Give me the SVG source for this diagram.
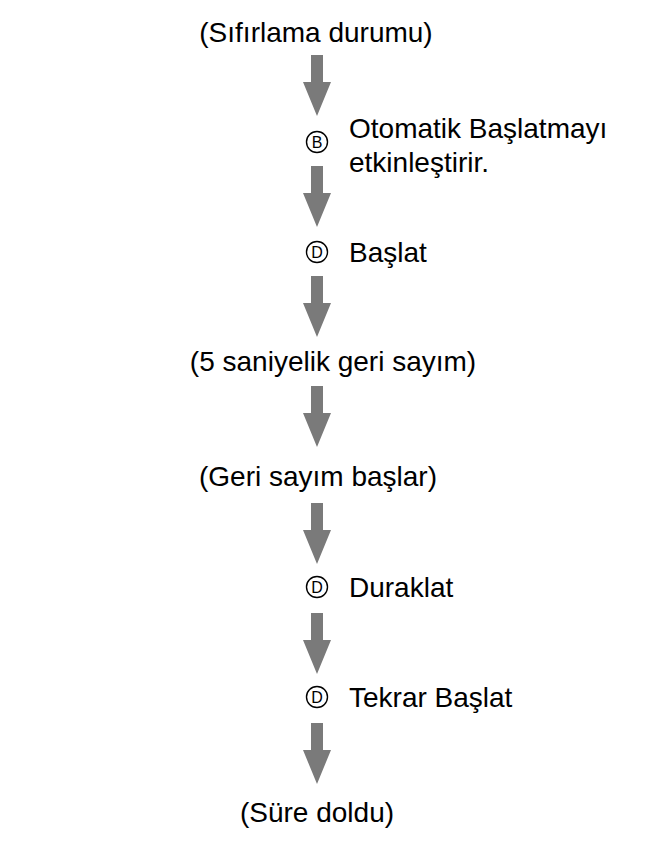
<svg xmlns="http://www.w3.org/2000/svg" width="667" height="846" viewBox="0 0 667 846">
<defs>
<style>
.t{font-family:"Liberation Sans",Arial,sans-serif;font-size:28px;fill:#000}
.c{fill:none;stroke:#000;stroke-width:1.4}
.cl{font-family:"Liberation Sans",Arial,sans-serif;font-size:16px;fill:#000;text-anchor:middle}
.a{fill:#7a7a7a}
</style>
<path id="arr" d="M-6,0 H6 V27 H14 L0,61 L-14,27 H-6 Z"/>
</defs>
<rect width="667" height="846" fill="#fff"/>
<g id="connectors" class="a">
<use href="#arr" x="317" y="55"/>
<use href="#arr" x="317" y="166"/>
<use href="#arr" x="317" y="276"/>
<use href="#arr" x="317" y="386"/>
<use href="#arr" x="317" y="503"/>
<use href="#arr" x="317" y="613"/>
<use href="#arr" x="317" y="723"/>
</g>
<g id="n1"><text class="t" x="316" y="42" text-anchor="middle">(Sıfırlama durumu)</text></g>
<g id="n2">
<circle class="c" cx="317" cy="142" r="10.5"/><text class="cl" x="317" y="148">B</text>
<text class="t" x="349" y="138">Otomatik Başlatmayı</text>
<text class="t" x="349" y="172">etkinleştirir.</text>
</g>
<g id="n3">
<circle class="c" cx="317" cy="252" r="10.5"/><text class="cl" x="317" y="258">D</text>
<text class="t" x="349" y="262">Başlat</text>
</g>
<g id="n4"><text class="t" x="333" y="371" text-anchor="middle">(5 saniyelik geri sayım)</text></g>
<g id="n5"><text class="t" x="318" y="486" text-anchor="middle">(Geri sayım başlar)</text></g>
<g id="n6">
<circle class="c" cx="317" cy="587" r="10.5"/><text class="cl" x="317" y="593">D</text>
<text class="t" x="349" y="597">Duraklat</text>
</g>
<g id="n7">
<circle class="c" cx="317" cy="697" r="10.5"/><text class="cl" x="317" y="703">D</text>
<text class="t" x="349" y="707">Tekrar Başlat</text>
</g>
<g id="n8"><text class="t" x="317" y="822" text-anchor="middle">(Süre doldu)</text></g>
</svg>
